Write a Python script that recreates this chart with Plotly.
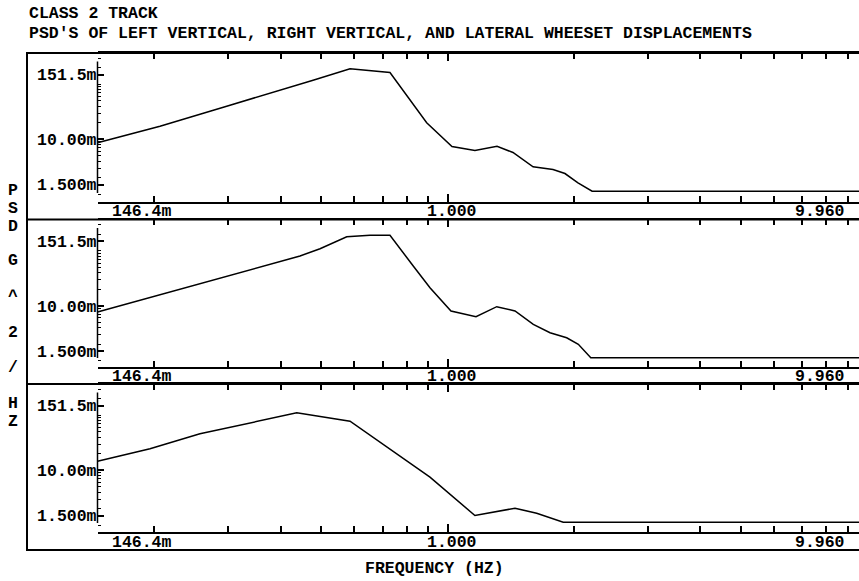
import numpy as np
import plotly.graph_objects as go

# ---------------- data ----------------
title_lines = ["CLASS 2 TRACK",
               "PSD'S OF LEFT VERTICAL, RIGHT VERTICAL, AND LATERAL WHEESET DISPLACEMENTS"]
x_title = "FREQUENCY (HZ)"
y_title_chars = ["P", "S", "D", "G", "^", "2", "/", "H", "Z"]

x_tick_values = [0.1464, 1.0, 9.96]
x_tick_labels = ["146.4m", "1.000", "9.960"]
y_tick_values = [0.0015, 0.01, 0.1515]
y_tick_labels = ["1.500m", "10.00m", "151.5m"]

freq_left = [0.1464, 0.2063, 0.2975, 0.428, 0.478, 0.5855, 0.729, 0.8918, 1.0245,
             1.162, 1.312, 1.432, 1.599, 1.784, 1.905, 2.046, 2.211, 9.96]
psd_left = [0.00863, 0.01733, 0.0401, 0.0904, 0.1193, 0.1925, 0.1647, 0.0200, 0.0074,
            0.00625, 0.00749, 0.00575, 0.00315, 0.00282, 0.00238, 0.00161, 0.001135, 0.001135]

freq_right = [0.1464, 0.1988, 0.292, 0.3987, 0.4449, 0.4966, 0.575, 0.6532, 0.729, 0.8283,
              0.908, 1.019, 1.169, 1.31, 1.448, 1.601, 1.755, 1.923, 2.05, 2.195, 9.96]
psd_right = [0.00771, 0.01465, 0.0325, 0.0628, 0.0808, 0.1097, 0.1814, 0.1924, 0.1924, 0.0531,
             0.0214, 0.00804, 0.00633, 0.00964, 0.00804, 0.0046, 0.00324, 0.00262, 0.00199,
             0.001135, 0.001135]

freq_lat = [0.1464, 0.1953, 0.2569, 0.3382, 0.437, 0.5855, 0.908, 1.162, 1.448, 1.631, 1.887, 9.96]
psd_lat = [0.01465, 0.0246, 0.0462, 0.0722, 0.1115, 0.0783, 0.00749, 0.001503, 0.00204,
           0.001655, 0.001135, 0.001135]

# ---------------- layout geometry (pixels) ----------------
W, H = 859, 581
FONT = "Liberation Mono"
FS = 16.5
panel_top = [53, 219.5, 384]
panel_axis = [202, 367, 532]
frame_bottom = 550
frame_left = 27
x0_px = 97.5
px_per_dec_x = 419.5
px_per_dec_y = 54.9
top_tick_off = 21.5  # from panel top to the 151.5m tick


def pyp(p):
    return 1 - p / H


def xpx(v):
    return x0_px + px_per_dec_x * (np.log10(v) - np.log10(x_tick_values[0]))


xr = [np.log10(x_tick_values[0]), np.log10(x_tick_values[0]) + (W - x0_px) / px_per_dec_x]

x_minor = [m * 0.1 for m in range(2, 10)] + [float(m) for m in range(2, 10)]
y_minor = []
for k in (-3, -2, -1):
    for m in range(1, 10):
        v = m * 10.0 ** k
        if abs(v - 0.01) > 1e-9:
            y_minor.append(v)

fig = go.Figure()
series = [(freq_left, psd_left), (freq_right, psd_right), (freq_lat, psd_lat)]
font = dict(family=FONT, size=FS, color="black", weight="bold")

for i, (fx, fy) in enumerate(series):
    n = "" if i == 0 else str(i + 1)
    fig.add_trace(go.Scatter(x=fx, y=fy, mode="lines", line=dict(color="black", width=1.5),
                             xaxis="x" + n, yaxis="y" + n, showlegend=False, hoverinfo="skip"))
    T, B = panel_top[i], panel_axis[i]
    yhi = np.log10(y_tick_values[2]) + top_tick_off / px_per_dec_y
    ylo = np.log10(y_tick_values[2]) - (B - T - top_tick_off) / px_per_dec_y
    fig.update_layout(**{
        "xaxis" + n: dict(type="log", range=xr, domain=[x0_px / W, 1], anchor="y" + n,
                          showline=True, linecolor="black", linewidth=1.5, mirror="ticks",
                          ticks="inside", ticklen=8, tickwidth=1.5, tickcolor="black",
                          tickvals=[1.0, 10.0], showticklabels=False, showgrid=False,
                          zeroline=False,
                          minor=dict(tickvals=x_minor, ticks="inside", ticklen=6,
                                     tickwidth=1.5, tickcolor="black", showgrid=False)),
        "yaxis" + n: dict(type="log", range=[ylo, yhi], domain=[pyp(B), pyp(T)],
                          anchor="x" + n, showline=False, ticks="inside", ticklen=6,
                          tickwidth=1.5, tickcolor="black", tickvals=y_tick_values,
                          ticktext=y_tick_labels, tickfont=font, showgrid=False,
                          zeroline=False, ticklabelstandoff=0,
                          minor=dict(tickvals=y_minor, ticks="inside", ticklen=3,
                                     tickwidth=1.2, tickcolor="black", showgrid=False)),
    })

shapes = []
# outer frame
shapes.append(dict(type="rect", xref="paper", yref="paper", x0=frame_left / W, x1=1.05,
                   y0=pyp(frame_bottom), y1=pyp(panel_top[0]),
                   line=dict(color="black", width=2)))
for i in (1, 2):
    shapes.append(dict(type="line", xref="paper", yref="paper", x0=frame_left / W, x1=1.0,
                       y0=pyp(panel_top[i]), y1=pyp(panel_top[i]),
                       line=dict(color="black", width=2)))
# y axis lines (shorter than the panel)
for i in range(3):
    shapes.append(dict(type="line", xref="paper", yref="paper", x0=x0_px / W, x1=x0_px / W,
                       y0=pyp(panel_axis[i] - 9), y1=pyp(panel_top[i] + 8.5),
                       line=dict(color="black", width=1.5)))

annotations = []
annotations.append(dict(text=title_lines[0], xref="paper", yref="paper", x=frame_left / W,
                        y=pyp(14), xanchor="left", yanchor="middle", showarrow=False, font=font))
annotations.append(dict(text=title_lines[1], xref="paper", yref="paper", x=frame_left / W,
                        y=pyp(33), xanchor="left", yanchor="middle", showarrow=False, font=font))
annotations.append(dict(text=x_title, xref="paper", yref="paper", x=434 / W, y=pyp(568),
                        xanchor="center", yanchor="middle", showarrow=False, font=font))
y_char_pos = [190, 209, 226, 260, 296, 332, 367, 403, 421]
for ch, p in zip(y_title_chars, y_char_pos):
    annotations.append(dict(text=ch, xref="paper", yref="paper", x=12.5 / W, y=pyp(p),
                            xanchor="center", yanchor="middle", showarrow=False, font=font))

label_offsets = [(12.5, "left"), (4, "center"), (-19.4, "right")]
row_bottoms = panel_top[1:] + [frame_bottom]
for i in range(3):
    yc = (panel_axis[i] + row_bottoms[i]) / 2
    for v, t, (off, anc) in zip(x_tick_values, x_tick_labels, label_offsets):
        annotations.append(dict(text=t, xref="paper", yref="paper", x=(xpx(v) + off) / W,
                                y=pyp(yc + 1), xanchor=anc, yanchor="middle",
                                showarrow=False, font=font))

fig.update_layout(width=W, height=H, margin=dict(l=0, r=0, t=0, b=0),
                  paper_bgcolor="white", plot_bgcolor="white",
                  shapes=shapes, annotations=annotations, showlegend=False,
                  font=font)

fig.write_html("out.html")
